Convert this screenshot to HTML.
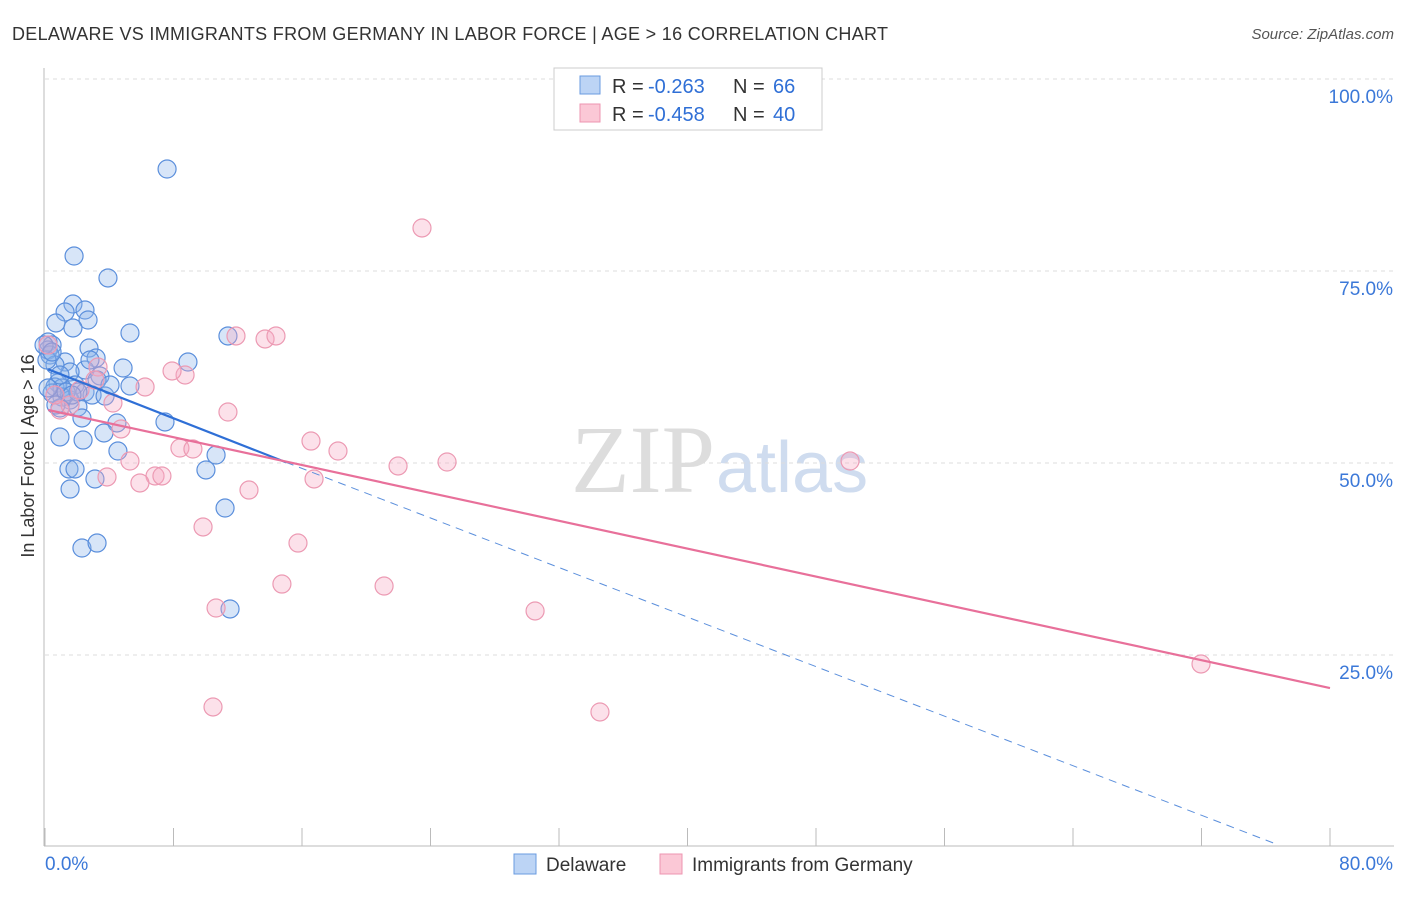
<!DOCTYPE html>
<html><head><meta charset="utf-8"><style>
body{margin:0;background:#fff;font-family:"Liberation Sans",sans-serif}
</style></head><body>
<svg id="c" width="1406" height="892" xmlns="http://www.w3.org/2000/svg">
<text x="12" y="40" font-size="18" fill="#333" textLength="876" lengthAdjust="spacing">DELAWARE VS IMMIGRANTS FROM GERMANY IN LABOR FORCE | AGE &gt; 16 CORRELATION CHART</text>
<text x="1394" y="39" font-size="15" fill="#555" font-style="italic" text-anchor="end">Source: ZipAtlas.com</text>
<text x="715" y="492" font-size="96" fill="#ddd" font-family="Liberation Serif" text-anchor="end">ZIP</text>
<text x="716" y="492" font-size="72" fill="#cfdcef">atlas</text>
<text transform="translate(34,456) rotate(-90)" font-size="18" fill="#333" text-anchor="middle">In Labor Force | Age &gt; 16</text>
<g id="grid"></g><g id="pts"></g><g id="lines"></g>
<g>
<rect x="554" y="68" width="268" height="62" fill="#fff" stroke="#ccc"/>
<rect x="580" y="76" width="20" height="18" fill="#bcd4f5" stroke="#6a9be0"/>
<rect x="580" y="104" width="20" height="18" fill="#fbc8d6" stroke="#ee95b0"/>
<text x="612" y="93" font-size="20" fill="#333">R =</text><text x="648" y="93" font-size="20" fill="#2f6fd6">-0.263</text>
<text x="733" y="93" font-size="20" fill="#333">N =</text><text x="773" y="93" font-size="20" fill="#2f6fd6">66</text>
<text x="612" y="121" font-size="20" fill="#333">R =</text><text x="648" y="121" font-size="20" fill="#2f6fd6">-0.458</text>
<text x="733" y="121" font-size="20" fill="#333">N =</text><text x="773" y="121" font-size="20" fill="#2f6fd6">40</text>
</g>
<g>
<rect x="514" y="854" width="22" height="20" fill="#bcd4f5" stroke="#6a9be0"/>
<text x="546" y="871" font-size="19" fill="#333">Delaware</text>
<rect x="660" y="854" width="22" height="20" fill="#fbc8d6" stroke="#ee95b0"/>
<text x="692" y="871" font-size="19" fill="#333">Immigrants from Germany</text>
</g>
</svg>
<script>
const bluePx=[[167,169],[74,256],[108,278],[73,304],[85,310],[65,312],[88,320],[56,323],[73,328],[130,333],[228,336],[48,342],[52,345],[89,348],[96,358],[65,362],[188,362],[123,368],[85,370],[70,372],[100,376],[97,380],[58,383],[75,385],[55,387],[62,388],[130,386],[85,392],[92,395],[105,396],[62,397],[52,393],[70,400],[60,408],[78,407],[165,422],[82,418],[117,423],[104,433],[60,437],[83,440],[118,451],[216,455],[69,469],[75,469],[206,470],[95,479],[70,489],[225,508],[82,548],[97,543],[230,609],[48,350],[50,355],[55,365],[47,360],[60,375],[66,392],[78,392],[90,360],[56,405],[48,388],[72,395],[110,385],[44,345],[52,352]];
const pinkPx=[[422,228],[236,336],[265,339],[276,336],[48,345],[185,375],[172,371],[98,367],[145,387],[113,403],[228,412],[121,429],[311,441],[338,451],[180,448],[193,449],[130,461],[155,476],[162,476],[107,477],[140,483],[398,466],[447,462],[314,479],[249,490],[850,461],[203,527],[298,543],[282,584],[384,586],[216,608],[535,611],[213,707],[600,712],[1201,664],[60,410],[80,390],[55,395],[95,380],[70,405]];
const blueX=bluePx.map(p=>+((p[0]-45)/16.0625).toFixed(2));
const blueY=bluePx.map(p=>+((847-p[1])/7.68).toFixed(2));
const pinkX=pinkPx.map(p=>+((p[0]-45)/16.0625).toFixed(2));
const pinkY=pinkPx.map(p=>+((847-p[1])/7.68).toFixed(2));
const yTicks=[100,75,50,25];
const yTickLabels=["100.0%","75.0%","50.0%","25.0%"];
const xTicks=[0,8,16,24,32,40,48,56,64,72,80];
const blueTrend=[[0.2,62.2],[15,50.1],[76.5,0.5]];
const pinkTrend=[[0.2,56.9],[80,20.7]];
const X=v=>45+v*16.0625, Y=v=>847-v*7.68;
const NS="http://www.w3.org/2000/svg";
function mk(t,a,p){const e=document.createElementNS(NS,t);for(const k in a)e.setAttribute(k,a[k]);p.appendChild(e);return e;}
const grid=document.getElementById('grid');
mk('line',{x1:44,y1:68,x2:44,y2:846,stroke:'#bbb'},grid);
mk('line',{x1:44,y1:846,x2:1394,y2:846,stroke:'#bbb'},grid);
yTicks.forEach((v,i)=>{
 const l=mk('line',{x1:45,y1:Y(v),x2:1394,y2:Y(v),stroke:'#ddd','stroke-dasharray':'4,4'},grid);
 
 
 const t=mk('text',{x:1393,y:Y(v)+24,'font-size':19,fill:'#3b78d8','text-anchor':'end'},grid);
 t.textContent=yTickLabels[i];
 
 
});
xTicks.forEach(v=>{
 const l=mk('line',{x1:X(v),y1:828,x2:X(v),y2:846,stroke:'#bbb'},grid);
 
 
});
const tx0=mk('text',{x:45,y:870,'font-size':19,fill:'#3b78d8'},grid);tx0.textContent='0.0%';


const tx1=mk('text',{x:1393,y:870,'font-size':19,fill:'#3b78d8','text-anchor':'end'},grid);tx1.textContent='80.0%';


const pts=document.getElementById('pts');
blueX.forEach((x,i)=>{const c=mk('circle',{cx:X(x),cy:Y(blueY[i]),r:9,fill:'rgba(140,180,235,0.35)',stroke:'#5b8fdc','stroke-width':1.2},pts);
 
 });
pinkX.forEach((x,i)=>{const c=mk('circle',{cx:X(x),cy:Y(pinkY[i]),r:9,fill:'rgba(245,170,195,0.35)',stroke:'#ec9ab3','stroke-width':1.2},pts);
 
 });
const lines=document.getElementById('lines');
const b1=mk('line',{x1:X(blueTrend[0][0]),y1:Y(blueTrend[0][1]),x2:X(blueTrend[1][0]),y2:Y(blueTrend[1][1]),stroke:'#2f6fd6','stroke-width':2.2},lines);


const b2=mk('line',{x1:X(blueTrend[1][0]),y1:Y(blueTrend[1][1]),x2:X(blueTrend[2][0]),y2:Y(blueTrend[2][1]),stroke:'#5b8fdc','stroke-width':1,'stroke-dasharray':'8,6'},lines);


const p1=mk('line',{x1:X(pinkTrend[0][0]),y1:Y(pinkTrend[0][1]),x2:X(pinkTrend[1][0]),y2:Y(pinkTrend[1][1]),stroke:'#e8709a','stroke-width':2.2},lines);


</script>
</body></html>
